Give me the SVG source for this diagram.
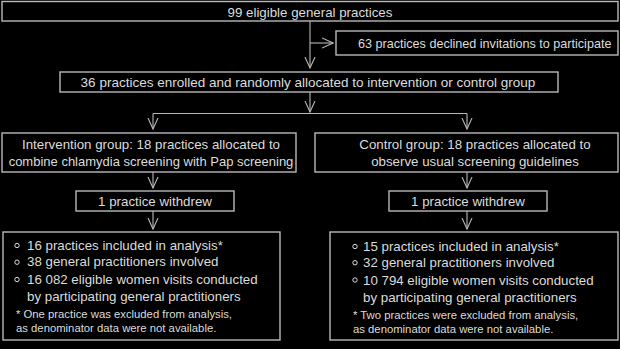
<svg xmlns="http://www.w3.org/2000/svg" width="620" height="349" viewBox="0 0 620 349">
<defs>
<marker id="arr" markerUnits="userSpaceOnUse" markerWidth="12" markerHeight="12" viewBox="0 0 12 12" refX="11" refY="6" orient="auto">
<path d="M0,1 L11,6 L0,11" fill="none" stroke="#b8b8b8" stroke-width="1.1"/>
</marker>
</defs>
<style>
.box{fill:#000;stroke:#b8b8b8;stroke-width:1.4}
.t{font-family:"Liberation Sans",Arial,sans-serif;font-size:13.3px;fill:#dcdcdc}
.c{text-anchor:middle}
.fn{font-family:"Liberation Sans",Arial,sans-serif;font-size:11.3px;fill:#dcdcdc}
.bul{fill:none;stroke:#dcdcdc;stroke-width:1}
.con{fill:none;stroke:#b8b8b8;stroke-width:1.1}
</style>
<rect x="0" y="0" width="620" height="349" fill="#000"/>
<g id="connectors">
<path class="con" d="M310,21 V68" marker-end="url(#arr)"/>
<path class="con" d="M310,43 H333" marker-end="url(#arr)"/>
<path class="con" d="M310,92 V112" marker-end="url(#arr)"/>
<path class="con" d="M153,113.5 H467"/>
<path class="con" d="M153,113.5 V129" marker-end="url(#arr)"/>
<path class="con" d="M467,113.5 V129" marker-end="url(#arr)"/>
<path class="con" d="M153,172 V188" marker-end="url(#arr)"/>
<path class="con" d="M467,172 V188" marker-end="url(#arr)"/>
<path class="con" d="M153,211 V229" marker-end="url(#arr)"/>
<path class="con" d="M467,211 V229" marker-end="url(#arr)"/>
</g>
<g id="eligible">
<rect class="box" x="2" y="1.5" width="616" height="19.5"/>
<text class="t c" x="310" y="16.5">99 eligible general practices</text>
</g>
<g id="declined">
<rect class="box" x="336" y="31" width="282" height="24"/>
<text class="t" x="358" y="47.5" style="font-size:12.6px">63 practices declined invitations to participate</text>
</g>
<g id="enrolled">
<rect class="box" x="60" y="72" width="498" height="20"/>
<text class="t c" x="308" y="86.7" style="font-size:13.5px">36 practices enrolled and randomly allocated to intervention or control group</text>
</g>
<g id="intervention">
<rect class="box" x="2" y="133" width="294" height="39"/>
<text class="t c" x="151" y="149">Intervention group: 18 practices allocated to</text>
<text class="t c" x="151" y="166" style="font-size:13px">combine chlamydia screening with Pap screening</text>
</g>
<g id="control">
<rect class="box" x="315" y="133" width="303" height="39"/>
<text class="t c" x="475" y="149">Control group: 18 practices allocated to</text>
<text class="t c" x="475" y="166">observe usual screening guidelines</text>
</g>
<g id="withdrew-left">
<rect class="box" x="76" y="191" width="158" height="20"/>
<text class="t c" x="155" y="205.5">1 practice withdrew</text>
</g>
<g id="withdrew-right">
<rect class="box" x="389" y="191" width="158" height="20"/>
<text class="t c" x="468" y="205.5">1 practice withdrew</text>
</g>
<g id="analysis-left">
<rect class="box" x="3" y="232" width="277" height="108"/>
<circle class="bul" cx="17" cy="245.5" r="2.2"/>
<circle class="bul" cx="17" cy="262.2" r="2.2"/>
<circle class="bul" cx="17" cy="279.5" r="2.2"/>
<text class="t" x="27" y="249.7">16 practices included in analysis*</text>
<text class="t" x="27" y="266.4">38 general practitioners involved</text>
<text class="t" x="27" y="283.7">16 082 eligible women visits conducted</text>
<text class="t" x="27" y="301.4">by participating general practitioners</text>
<text class="fn" x="16" y="318">* One practice was excluded from analysis,</text>
<text class="fn" x="16" y="331.7">as denominator data were not available.</text>
</g>
<g id="analysis-right">
<rect class="box" x="330" y="232" width="288" height="108"/>
<circle class="bul" cx="355" cy="246.5" r="2.2"/>
<circle class="bul" cx="355" cy="262.7" r="2.2"/>
<circle class="bul" cx="355" cy="280" r="2.2"/>
<text class="t" x="363" y="251">15 practices included in analysis*</text>
<text class="t" x="363" y="267">32 general practitioners involved</text>
<text class="t" x="363" y="284.5">10 794 eligible women visits conducted</text>
<text class="t" x="363" y="302">by participating general practitioners</text>
<text class="fn" x="353" y="318.5">* Two practices were excluded from analysis,</text>
<text class="fn" x="353" y="332.5">as denominator data were not available.</text>
</g>
</svg>
